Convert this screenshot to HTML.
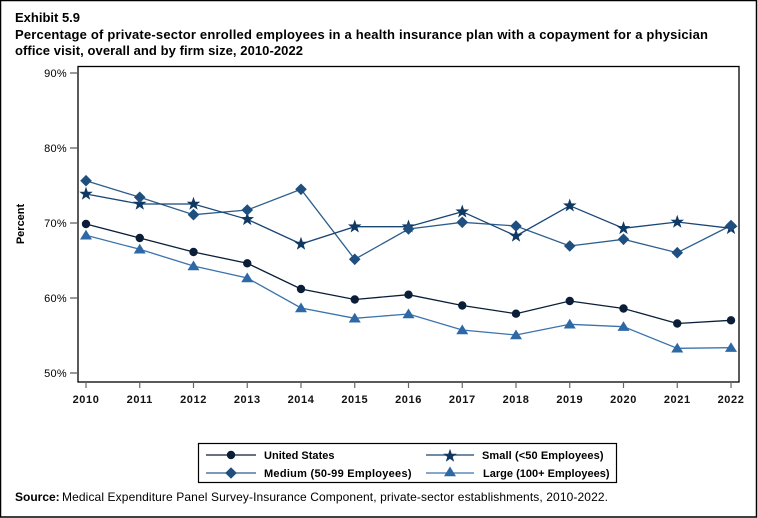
<!DOCTYPE html>
<html><head><meta charset="utf-8"><style>
html,body{margin:0;padding:0;background:#fff;}
svg{display:block;}
text{font-family:"Liberation Sans",Arial,sans-serif;}
</style></head><body>
<svg width="758" height="518" viewBox="0 0 758 518" xmlns="http://www.w3.org/2000/svg">
<defs>
<circle id="mc" r="4.2" fill="#0b1e38"/>
<polygon id="ms" points="0,-7.2 1.7,-2.3 6.8,-2.2 2.7,0.9 4.2,5.8 0,2.9 -4.2,5.8 -2.7,0.9 -6.8,-2.2 -1.7,-2.3" fill="#0f3863"/>
<polygon id="md" points="0,-5.8 5.8,0 0,5.8 -5.8,0" fill="#1f4f7e"/>
<polygon id="mt" points="0,-5.5 6,4.2 -6,4.2" fill="#2f69a5"/>
</defs>
<rect x="0.5" y="0.5" width="756" height="516.5" fill="#fff" stroke="#000" stroke-width="1.5"/>
<text x="15" y="22" font-size="13" font-weight="bold" fill="#000">Exhibit 5.9</text>
<text x="15" y="39" font-size="13" font-weight="bold" fill="#000" textLength="693" lengthAdjust="spacing">Percentage of private-sector enrolled employees in a health insurance plan with a copayment for a physician</text>
<text x="15" y="55" font-size="13" font-weight="bold" fill="#000" textLength="288" lengthAdjust="spacing">office visit, overall and by firm size, 2010-2022</text>

<!-- plot frame -->
<rect x="78" y="66.5" width="661" height="315.5" fill="none" stroke="#000" stroke-width="1.3"/>
<!-- y ticks -->
<g stroke="#555" stroke-width="1.2">
<line x1="70" y1="73" x2="77" y2="73"/>
<line x1="70" y1="148" x2="77" y2="148"/>
<line x1="70" y1="223" x2="77" y2="223"/>
<line x1="70" y1="298" x2="77" y2="298"/>
<line x1="70" y1="373" x2="77" y2="373"/>
</g>
<g font-size="11" fill="#000" text-anchor="end" letter-spacing="0.3">
<text x="67" y="77">90%</text>
<text x="67" y="152">80%</text>
<text x="67" y="227">70%</text>
<text x="67" y="302">60%</text>
<text x="67" y="377">50%</text>
</g>
<text transform="translate(24,224) rotate(-90)" font-size="11" font-weight="bold" text-anchor="middle" fill="#000">Percent</text>
<!-- x ticks -->
<g stroke="#666" stroke-width="1.2">
<line x1="86" y1="382" x2="86" y2="388"/>
<line x1="139.75" y1="382" x2="139.75" y2="388"/>
<line x1="193.5" y1="382" x2="193.5" y2="388"/>
<line x1="247.25" y1="382" x2="247.25" y2="388"/>
<line x1="301" y1="382" x2="301" y2="388"/>
<line x1="354.75" y1="382" x2="354.75" y2="388"/>
<line x1="408.5" y1="382" x2="408.5" y2="388"/>
<line x1="462.25" y1="382" x2="462.25" y2="388"/>
<line x1="516" y1="382" x2="516" y2="388"/>
<line x1="569.75" y1="382" x2="569.75" y2="388"/>
<line x1="623.5" y1="382" x2="623.5" y2="388"/>
<line x1="677.25" y1="382" x2="677.25" y2="388"/>
<line x1="731" y1="382" x2="731" y2="388"/>
</g>
<g font-size="11" font-weight="bold" fill="#111" text-anchor="middle" letter-spacing="0.6">
<text x="86" y="403">2010</text>
<text x="139.75" y="403">2011</text>
<text x="193.5" y="403">2012</text>
<text x="247.25" y="403">2013</text>
<text x="301" y="403">2014</text>
<text x="354.75" y="403">2015</text>
<text x="408.5" y="403">2016</text>
<text x="462.25" y="403">2017</text>
<text x="516" y="403">2018</text>
<text x="569.75" y="403">2019</text>
<text x="623.5" y="403">2020</text>
<text x="677.25" y="403">2021</text>
<text x="731" y="403">2022</text>
</g>

<!-- series lines -->
<polyline fill="none" stroke="#3a73ad" stroke-width="1.3" points="86,235.3 139.75,249.3 193.5,266 247.25,278 301,308 354.75,318.3 408.5,314 462.25,330 516,335 569.75,324.3 623.5,326.7 677.25,348.3 731,347.7"/>
<polyline fill="none" stroke="#0b1e38" stroke-width="1.3" points="86,224 139.75,238 193.5,252 247.25,263.3 301,289 354.75,299.5 408.5,294.7 462.25,305.5 516,313.7 569.75,301 623.5,308.5 677.25,323.5 731,320.3"/>
<polyline fill="none" stroke="#2d5e8e" stroke-width="1.3" points="86,180.7 139.75,197.3 193.5,214.7 247.25,210 301,189.3 354.75,259.3 408.5,229 462.25,222.3 516,226 569.75,246 623.5,239.3 677.25,252.7 731,225.5"/>
<polyline fill="none" stroke="#1a4675" stroke-width="1.3" points="86,194 139.75,204 193.5,204 247.25,219.3 301,244 354.75,226.7 408.5,226.7 462.25,211.7 516,236 569.75,205.7 623.5,228.3 677.25,222 731,228.3"/>

<!-- markers -->
<g>
<use href="#mt" x="86" y="235.3"/><use href="#mt" x="139.75" y="249.3"/><use href="#mt" x="193.5" y="266"/><use href="#mt" x="247.25" y="278"/><use href="#mt" x="301" y="308"/><use href="#mt" x="354.75" y="318.3"/><use href="#mt" x="408.5" y="314"/><use href="#mt" x="462.25" y="330"/><use href="#mt" x="516" y="335"/><use href="#mt" x="569.75" y="324.3"/><use href="#mt" x="623.5" y="326.7"/><use href="#mt" x="677.25" y="348.3"/><use href="#mt" x="731" y="347.7"/>
</g>
<g>
<use href="#mc" x="86" y="224"/><use href="#mc" x="139.75" y="238"/><use href="#mc" x="193.5" y="252"/><use href="#mc" x="247.25" y="263.3"/><use href="#mc" x="301" y="289"/><use href="#mc" x="354.75" y="299.5"/><use href="#mc" x="408.5" y="294.7"/><use href="#mc" x="462.25" y="305.5"/><use href="#mc" x="516" y="313.7"/><use href="#mc" x="569.75" y="301"/><use href="#mc" x="623.5" y="308.5"/><use href="#mc" x="677.25" y="323.5"/><use href="#mc" x="731" y="320.3"/>
</g>
<g>
<use href="#ms" x="86" y="194"/><use href="#ms" x="139.75" y="204"/><use href="#ms" x="193.5" y="204"/><use href="#ms" x="247.25" y="219.3"/><use href="#ms" x="301" y="244"/><use href="#ms" x="354.75" y="226.7"/><use href="#ms" x="408.5" y="226.7"/><use href="#ms" x="462.25" y="211.7"/><use href="#ms" x="516" y="236"/><use href="#ms" x="569.75" y="205.7"/><use href="#ms" x="623.5" y="228.3"/><use href="#ms" x="677.25" y="222"/><use href="#ms" x="731" y="228.3"/>
</g>
<g>
<use href="#md" x="86" y="180.7"/><use href="#md" x="139.75" y="197.3"/><use href="#md" x="193.5" y="214.7"/><use href="#md" x="247.25" y="210"/><use href="#md" x="301" y="189.3"/><use href="#md" x="354.75" y="259.3"/><use href="#md" x="408.5" y="229"/><use href="#md" x="462.25" y="222.3"/><use href="#md" x="516" y="226"/><use href="#md" x="569.75" y="246"/><use href="#md" x="623.5" y="239.3"/><use href="#md" x="677.25" y="252.7"/><use href="#md" x="731" y="225.5"/>
</g>

<!-- legend -->
<rect x="198.5" y="443.5" width="418" height="39" fill="#fff" stroke="#000" stroke-width="1.2"/>
<line x1="206" y1="455" x2="256" y2="455" stroke="#0b1e38" stroke-width="1.3"/>
<use href="#mc" x="231" y="455"/>
<line x1="206" y1="473" x2="256" y2="473" stroke="#2d5e8e" stroke-width="1.3"/>
<use href="#md" x="231" y="473"/>
<line x1="426" y1="455" x2="474" y2="455" stroke="#1a4675" stroke-width="1.3"/>
<use href="#ms" x="450" y="456"/>
<line x1="426" y1="473" x2="474" y2="473" stroke="#3a73ad" stroke-width="1.3"/>
<use href="#mt" x="450" y="472"/>
<g font-size="11" fill="#000" letter-spacing="0.5" font-weight="bold">
<text x="264" y="459" textLength="71" lengthAdjust="spacing">United States</text>
<text x="264" y="477" textLength="148" lengthAdjust="spacing">Medium (50-99 Employees)</text>
<text x="482" y="459" textLength="122" lengthAdjust="spacing">Small (&lt;50 Employees)</text>
<text x="483" y="477" textLength="127" lengthAdjust="spacing">Large (100+ Employees)</text>
</g>

<!-- source -->
<text x="15" y="501" font-size="12" font-weight="bold" fill="#000">Source:</text>
<text x="62" y="501" font-size="12" fill="#000" textLength="546" lengthAdjust="spacing">Medical Expenditure Panel Survey-Insurance Component, private-sector establishments, 2010-2022.</text>
</svg>
</body></html>
